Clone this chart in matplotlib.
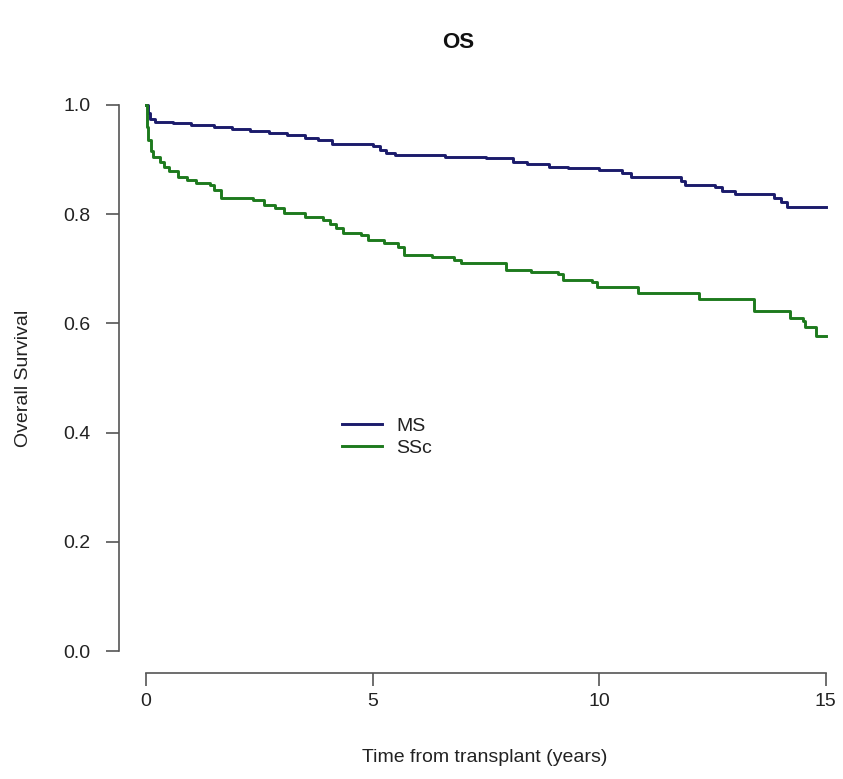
import numpy as np
import matplotlib
matplotlib.use('Agg')
import matplotlib.pyplot as plt

plt.rcParams['font.family'] = ['Liberation Sans', 'DejaVu Sans']

# Kaplan-Meier steps (years, survival)
ms_time = [0, 0.03, 0.08, 0.2, 0.6, 1.0, 1.5, 1.9, 2.3, 2.7, 3.1, 3.5, 3.8, 4.1, 5.0,
           5.15, 5.3, 5.5, 6.6, 7.5, 8.1, 8.4, 8.9, 9.3, 10.0, 10.5, 10.7, 11.8, 11.9,
           12.55, 12.7, 13.0, 13.85, 14.0, 14.15, 15.0]
ms_surv = [1.0, 0.985, 0.975, 0.968, 0.966, 0.963, 0.960, 0.955, 0.952, 0.948, 0.944,
           0.939, 0.935, 0.929, 0.925, 0.918, 0.912, 0.908, 0.905, 0.903, 0.896, 0.891,
           0.886, 0.884, 0.881, 0.876, 0.868, 0.861, 0.853, 0.849, 0.843, 0.836, 0.829,
           0.822, 0.813, 0.813]

ssc_time = [0, 0.02, 0.05, 0.1, 0.15, 0.3, 0.4, 0.5, 0.7, 0.9, 1.1, 1.4, 1.5, 1.65, 2.35,
            2.6, 2.85, 3.05, 3.5, 3.9, 4.05, 4.2, 4.35, 4.75, 4.9, 5.25, 5.55, 5.7, 6.3,
            6.8, 6.95, 7.95, 8.5, 9.1, 9.2, 9.85, 9.95, 10.85, 12.2, 13.42, 14.22, 14.5,
            14.55, 14.78, 15.0]
ssc_surv = [1.0, 0.96, 0.935, 0.915, 0.905, 0.895, 0.887, 0.879, 0.868, 0.862, 0.857,
            0.853, 0.845, 0.830, 0.826, 0.817, 0.812, 0.802, 0.795, 0.789, 0.781, 0.775,
            0.766, 0.762, 0.753, 0.748, 0.740, 0.725, 0.721, 0.716, 0.710, 0.698, 0.694,
            0.690, 0.680, 0.676, 0.667, 0.656, 0.645, 0.623, 0.610, 0.605, 0.594, 0.576,
            0.576]

groups = ['MS', 'SSc']
colors = ['#1b1b6b', '#1d7a1d']
x_ticks = [0, 5, 10, 15]
y_ticks = [0.0, 0.2, 0.4, 0.6, 0.8, 1.0]

W, H = 843, 779
fig = plt.figure(figsize=(W / 100, H / 100), dpi=100)
# R-style plot region: data range padded by 4% each side
ax = fig.add_axes([119 / W, 1 - 673 / H, (853 - 119) / W, (673 - 83) / H])
ax.set_xlim(-0.6, 15.6)
ax.set_ylim(-0.04, 1.04)

for t, s, lab, c in [(ms_time, ms_surv, groups[0], colors[0]),
                     (ssc_time, ssc_surv, groups[1], colors[1])]:
    ax.step(t, s, where='post', color=c, lw=2.1, label=lab)

for side in ['top', 'right']:
    ax.spines[side].set_visible(False)
ax.spines['left'].set_bounds(0, 1)
ax.spines['bottom'].set_bounds(0, 15)
for side in ['left', 'bottom']:
    ax.spines[side].set_color('#555555')
    ax.spines[side].set_linewidth(1.2)

ax.set_xticks(x_ticks)
ax.set_xticklabels([str(v) for v in x_ticks])
ax.set_yticks(y_ticks)
ax.set_yticklabels(['%.1f' % v for v in y_ticks])
ax.tick_params(axis='both', direction='out', length=9.5, width=1.2, color='#555555',
               labelsize=14, labelcolor='#222222')
ax.tick_params(axis='x', pad=5)
ax.tick_params(axis='y', pad=11)

fig.text(485 / W, 1 - 758 / H, 'Time from transplant (years)', ha='center', va='center',
         fontsize=14, color='#222222')
fig.text(24 / W, 1 - 378 / H, 'Overall Survival', ha='center', va='center',
         rotation=90, fontsize=14, color='#222222')
fig.text(458 / W, 1 - 43 / H, 'OS', ha='center', va='center', fontsize=16,
         fontweight='bold', color='#111111')

leg = ax.legend(loc='upper left', bbox_to_anchor=(342 / W, 1 - 417 / H),
                bbox_transform=fig.transFigure, frameon=False, fontsize=14,
                handlelength=2.05, handletextpad=0.75, labelspacing=0.25,
                borderaxespad=0, borderpad=0)
for txt in leg.get_texts():
    txt.set_color('#222222')

fig.savefig('out.png', dpi=100)
